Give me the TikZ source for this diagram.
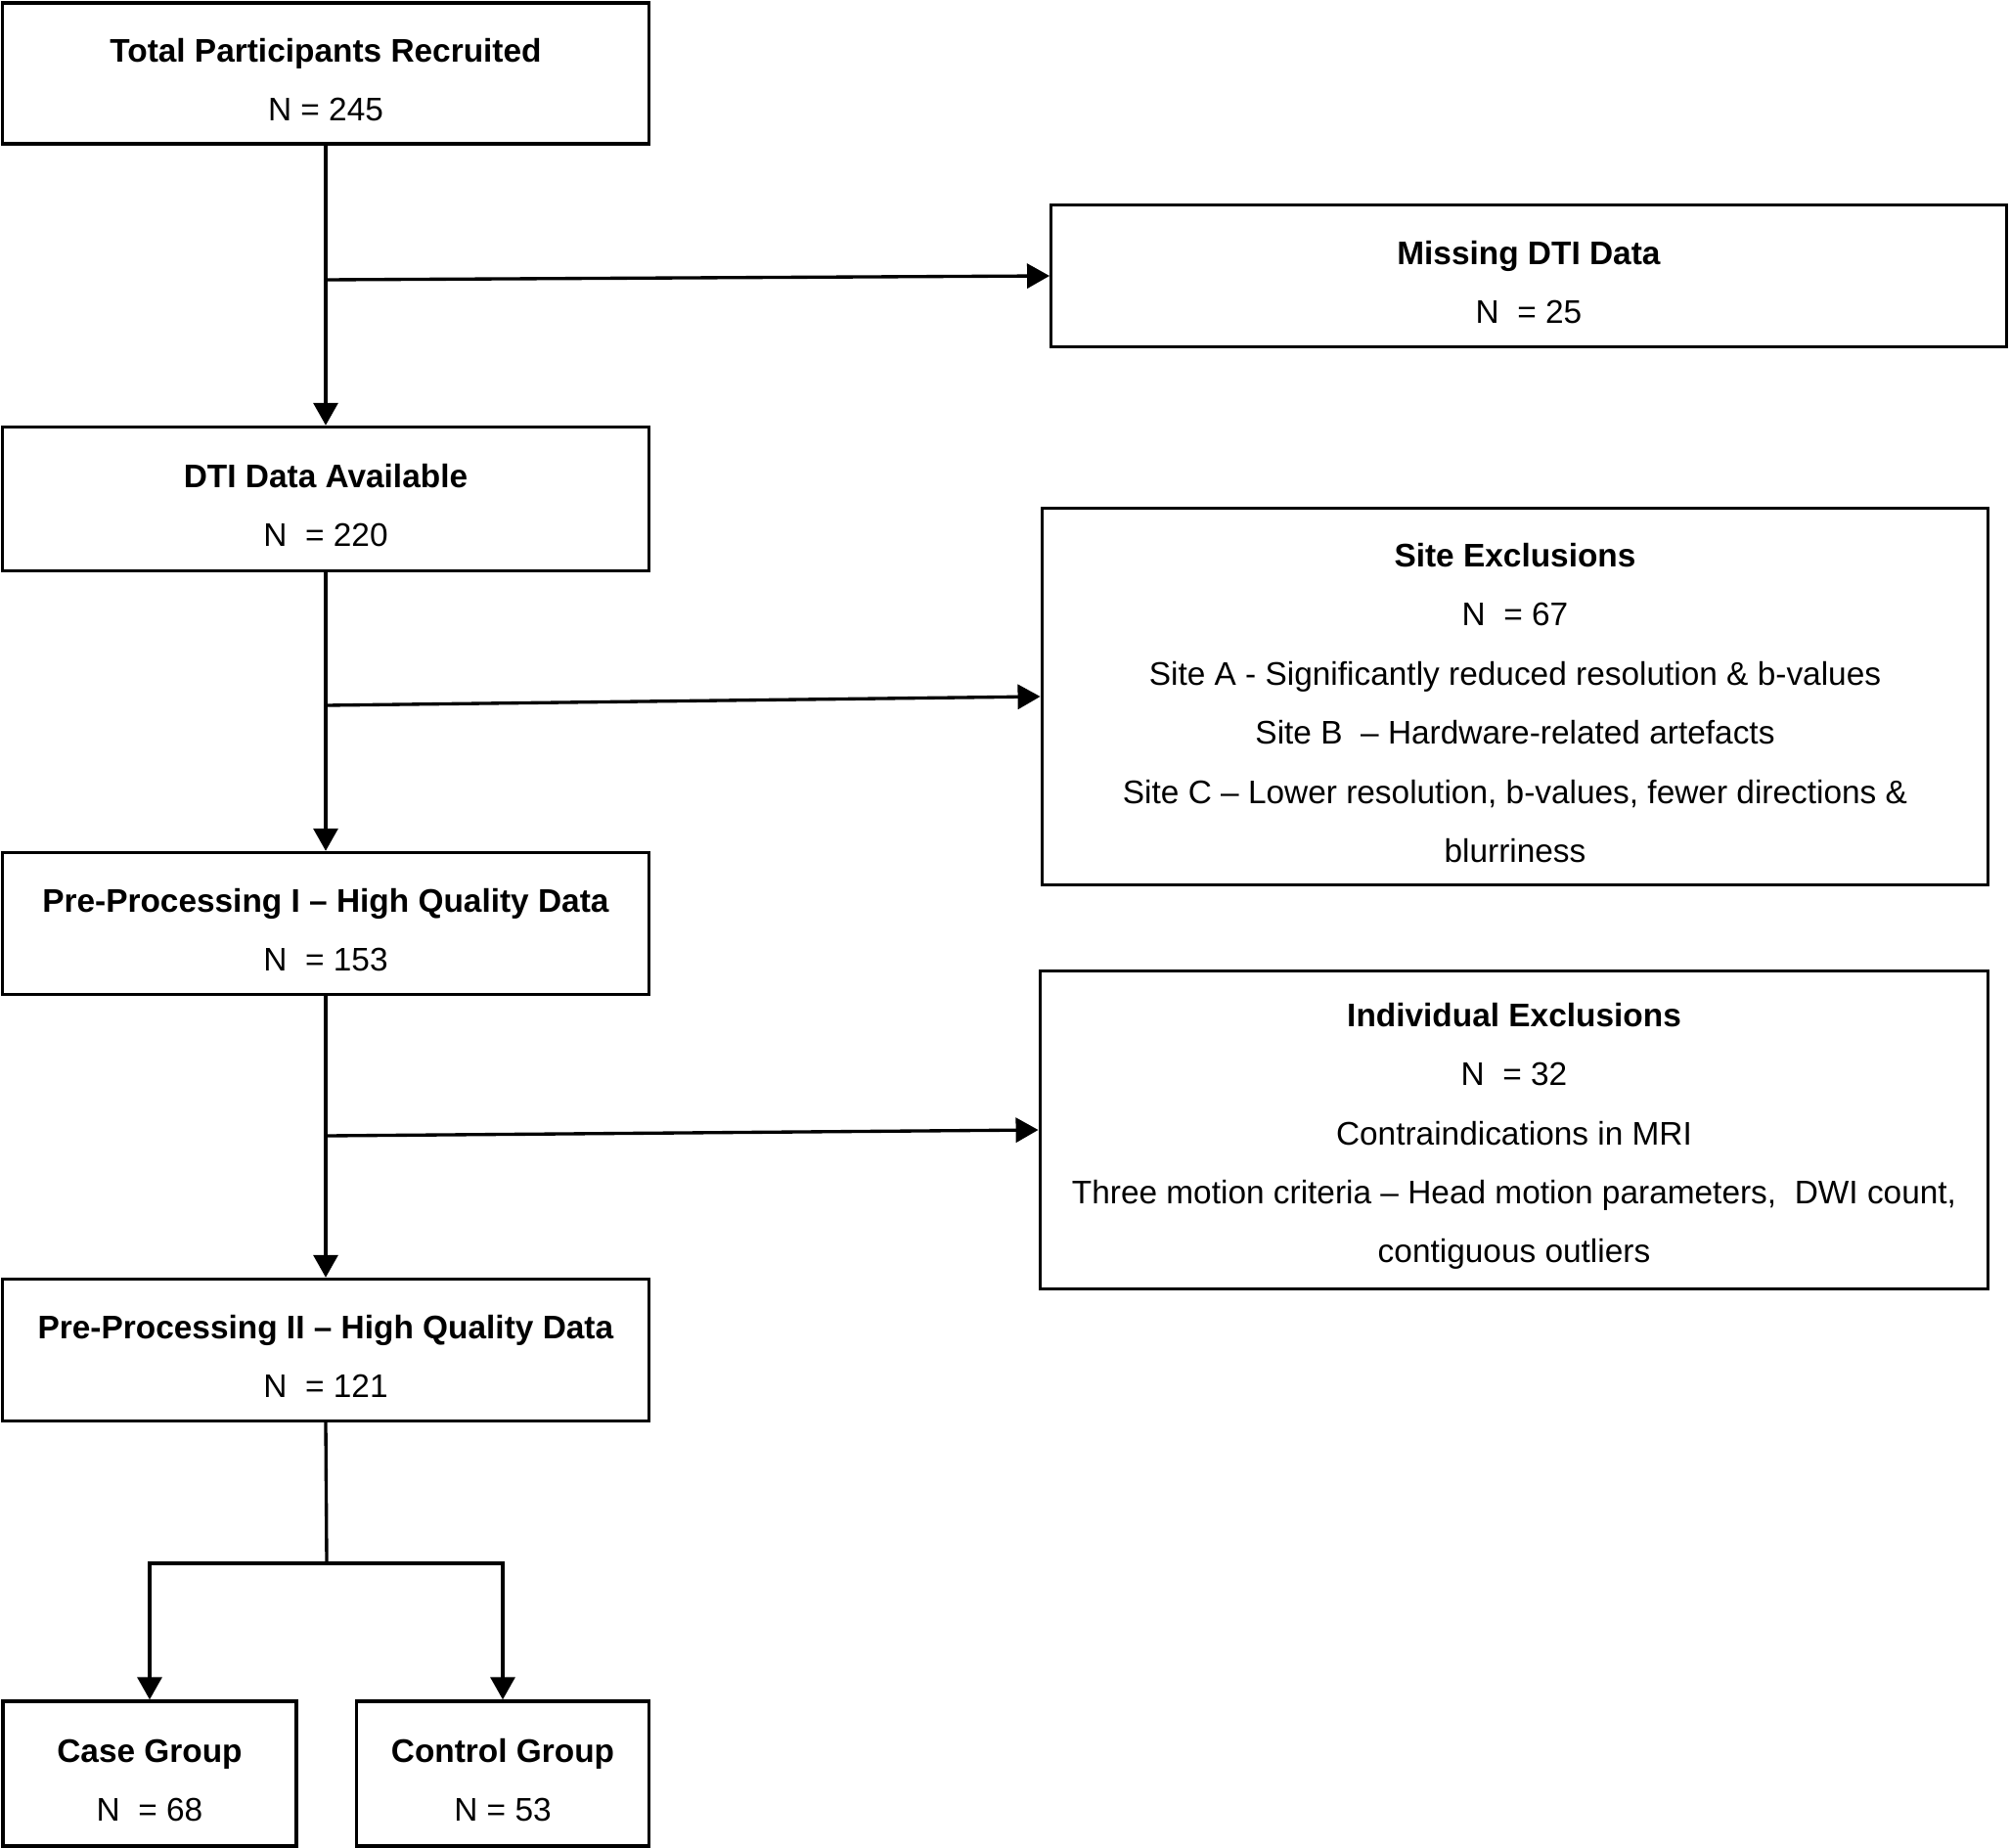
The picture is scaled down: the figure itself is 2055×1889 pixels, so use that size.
\documentclass[tikz,border=0pt]{standalone}
\usepackage{fontspec}
\setmainfont{Liberation Sans}
\usetikzlibrary{arrows.meta}
\newcommand{\toppad}{\rule{0pt}{10.5pt}}
\begin{document}
\begin{tikzpicture}[x=0.01cm,y=-0.01cm,
  box/.style={draw,line width=0.95pt,align=center,inner sep=0pt,
    font=\fontsize{9.5}{17.2}\selectfont},
  conn/.style={line width=0.95pt,-{Triangle[length=0.23cm,width=0.25cm]}},
  plain/.style={line width=0.95pt}]
\useasboundingbox (0,0) rectangle (2055,1889);
\node[box,minimum width=6.6cm,minimum height=1.44cm] (total) at (333,75)
  {\toppad\textbf{Total Participants Recruited}\\N = 245};
\node[box,minimum width=9.76cm,minimum height=1.45cm] (miss) at (1563,282)
  {\toppad\textbf{Missing DTI Data}\\N~~= 25};
\node[box,minimum width=6.6cm,minimum height=1.47cm] (dti) at (333,510)
  {\toppad\textbf{DTI Data Available}\\N~~= 220};
\node[box,minimum width=9.67cm,minimum height=3.85cm] (site) at (1549,712)
  {\toppad\textbf{Site Exclusions}\\N~~= 67\\Site A - Significantly reduced resolution \& b-values\\
   Site B~~– Hardware-related artefacts\\Site C – Lower resolution, b-values, fewer directions \&\\blurriness};
\node[box,minimum width=6.6cm,minimum height=1.45cm] (pre1) at (333,944)
  {\toppad\textbf{Pre-Processing I – High Quality Data}\\N~~= 153};
\node[box,minimum width=9.69cm,minimum height=3.25cm] (indiv) at (1548,1155)
  {\toppad\textbf{Individual Exclusions}\\N~~= 32\\Contraindications in MRI\\
   Three motion criteria – Head motion parameters,~~DWI count,\\contiguous outliers};
\node[box,minimum width=6.6cm,minimum height=1.45cm] (pre2) at (333,1380)
  {\toppad\textbf{Pre-Processing II – High Quality Data}\\N~~= 121};
\node[box,minimum width=3.0cm,minimum height=1.48cm] (case) at (153,1813)
  {\toppad\textbf{Case Group}\\N~~= 68};
\node[box,minimum width=2.99cm,minimum height=1.48cm] (control) at (514,1813)
  {\toppad\textbf{Control Group}\\N = 53};
\coordinate (j1) at (334,286);
\coordinate (j2) at (334,721);
\coordinate (j3) at (334,1161);
\coordinate (split) at (334,1598);
\coordinate (lc) at (153,1598);
\coordinate (rc) at (514,1598);
\draw[conn] (total.south) -- (dti.north);
\draw[conn] (dti.south) -- (pre1.north);
\draw[conn] (pre1.south) -- (pre2.north);
\draw[conn] (j1) -- (miss.west);
\draw[conn] (j2) -- (site.west);
\draw[conn] (j3) -- (indiv.west);
\draw[plain] (pre2.south) -- (split);
\draw[plain,line cap=rect] (lc) -- (rc);
\draw[conn] (lc) -- (case.north);
\draw[conn] (rc) -- (control.north);
\end{tikzpicture}
\end{document}
